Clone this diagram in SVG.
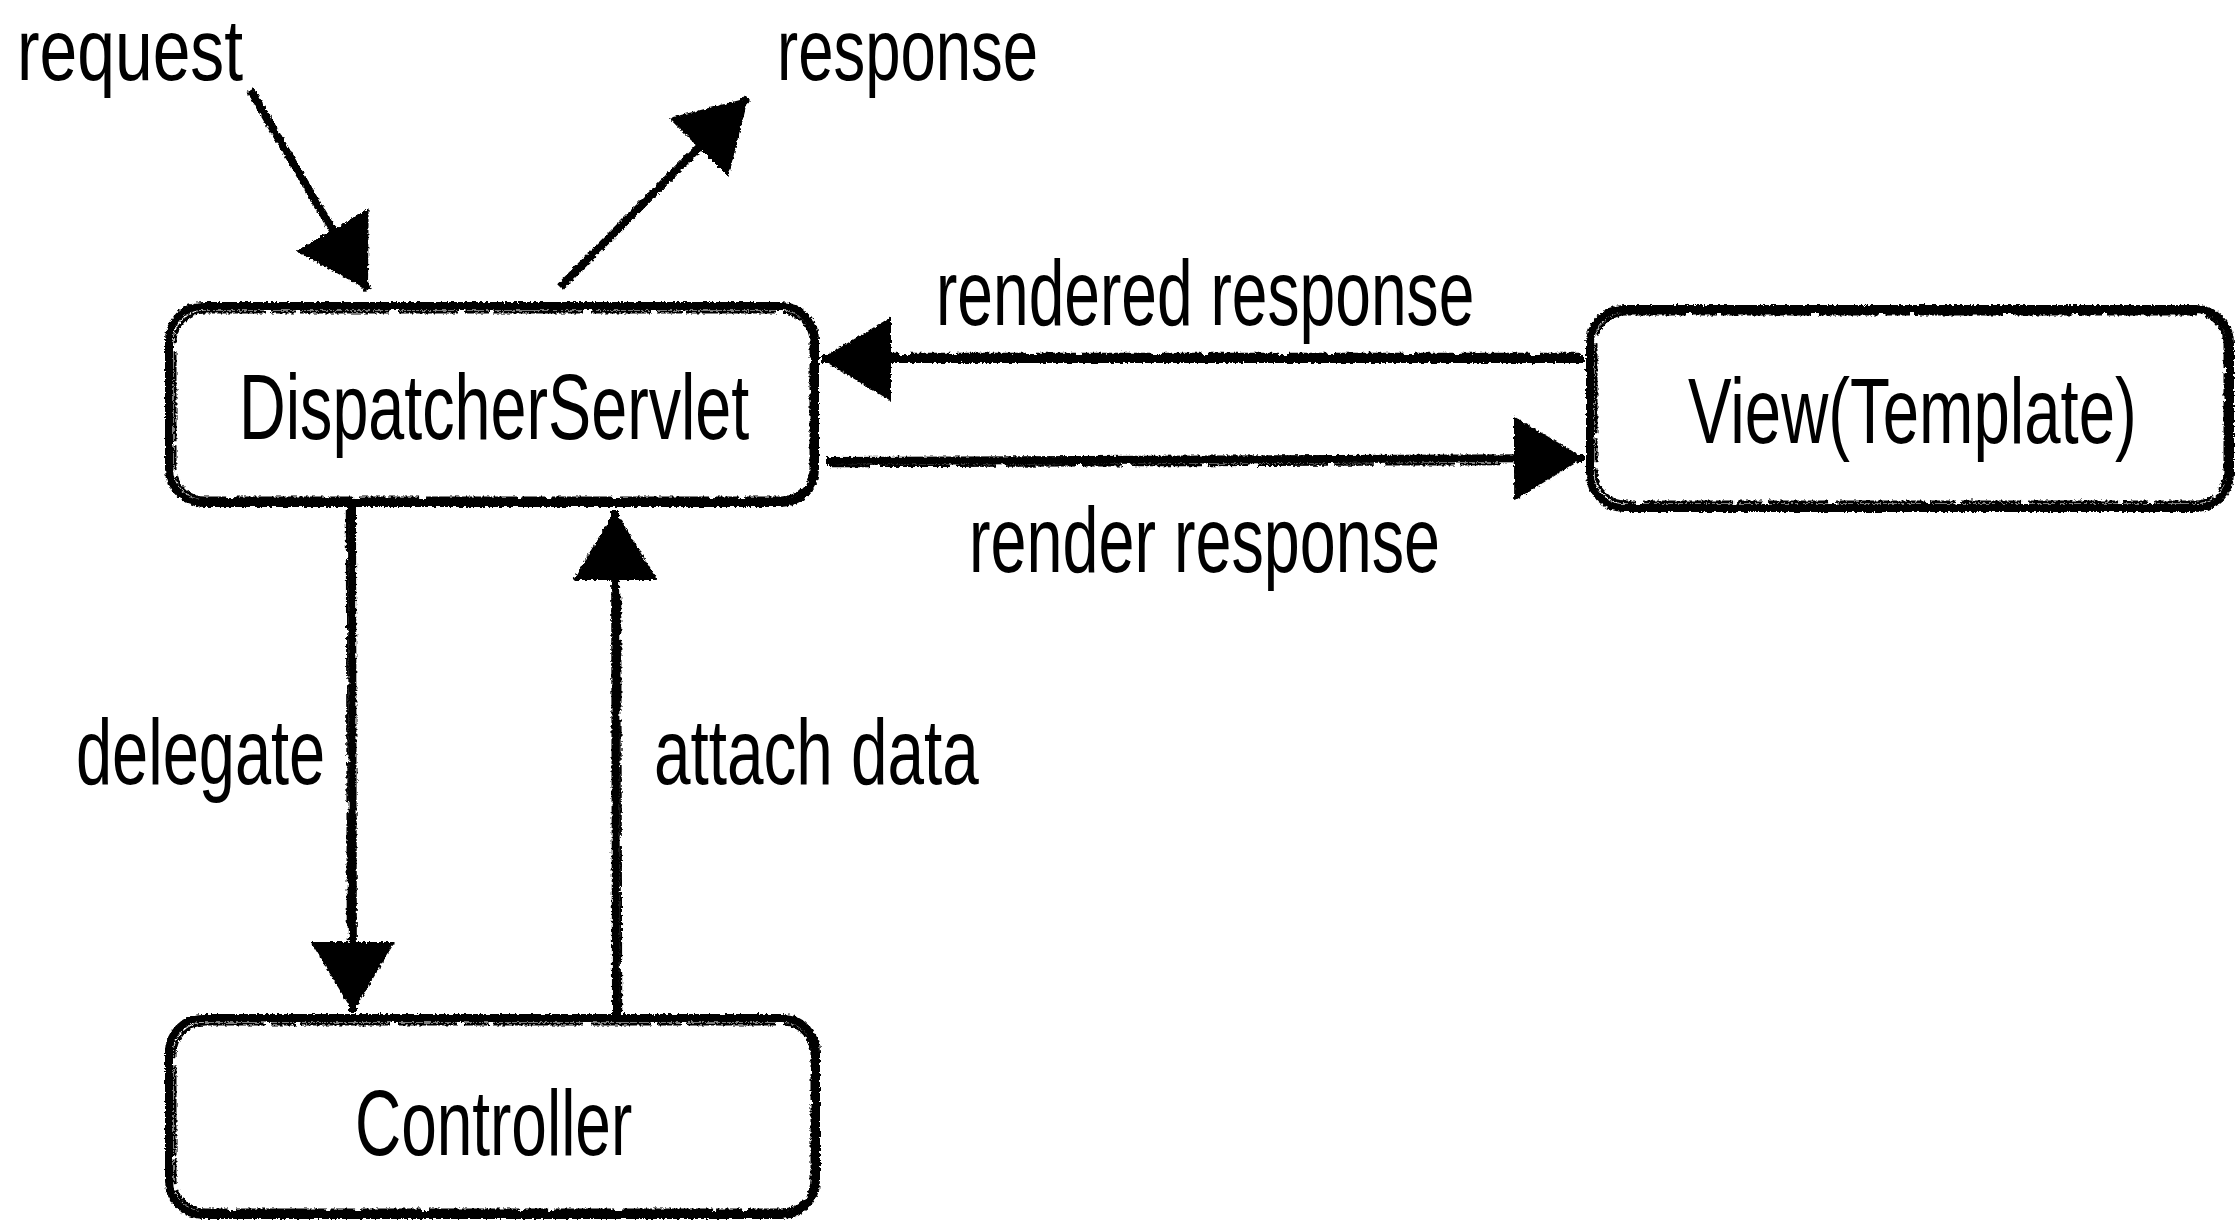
<svg xmlns="http://www.w3.org/2000/svg" width="2236" height="1221" viewBox="0 0 2236 1221">
  <style>
    .lbl { font-family: "Liberation Sans", Arial, sans-serif; font-size: 92px; fill: #000; }
    .top { font-size: 88px; }
    .box { fill: #fff; stroke: #000; stroke-width: 8; }
    .ghost { fill: none; stroke: #000; stroke-width: 3; stroke-dasharray: 60 6 25 4 90 8; }
    .edge { fill: none; stroke: #000; stroke-width: 8; stroke-linecap: butt; }
    .edge2 { fill: none; stroke: #000; stroke-width: 2.5; stroke-dasharray: 40 10 70 6; }
  </style>
  <defs>
    <filter id="rough" filterUnits="userSpaceOnUse" x="0" y="0" width="2236" height="1221">
      <feTurbulence type="fractalNoise" baseFrequency="0.35" numOctaves="2" seed="3" result="n"/>
      <feDisplacementMap in="SourceGraphic" in2="n" scale="4.5" xChannelSelector="R" yChannelSelector="G"/>
    </filter>
    <marker id="head" markerUnits="userSpaceOnUse" markerWidth="72" markerHeight="84" refX="70" refY="42" orient="auto" viewBox="0 0 72 84">
      <path d="M0,0 L70,42 L0,84 Z" fill="#000"/>
    </marker>
  </defs>
  <rect width="2236" height="1221" fill="#fff"/>

  <g id="connectors" filter="url(#rough)">
    <g id="e-request">
      <line class="edge" x1="250" y1="90" x2="368" y2="290" marker-end="url(#head)"/>
      <line class="edge2" x1="255" y1="92" x2="332" y2="225"/>
    </g>
    <g id="e-response">
      <line class="edge" x1="560" y1="287" x2="748" y2="98" marker-end="url(#head)"/>
      <line class="edge2" x1="567" y1="284" x2="690" y2="160"/>
    </g>
    <g id="e-rendered">
      <line class="edge" x1="1584" y1="359" x2="821" y2="359" marker-end="url(#head)"/>
      <line class="edge2" x1="1580" y1="354" x2="890" y2="354"/>
    </g>
    <g id="e-render">
      <line class="edge" x1="826" y1="461" x2="1584" y2="458" marker-end="url(#head)"/>
      <line class="edge2" x1="830" y1="466" x2="1505" y2="464"/>
    </g>
    <g id="e-delegate">
      <line class="edge" x1="352" y1="506" x2="353" y2="1012" marker-end="url(#head)"/>
      <line class="edge2" x1="347" y1="510" x2="348" y2="940"/>
    </g>
    <g id="e-attach">
      <line class="edge" x1="616" y1="1015" x2="615" y2="510" marker-end="url(#head)"/>
      <line class="edge2" x1="621" y1="1012" x2="620" y2="585"/>
    </g>
  </g>

  <g id="n-dispatcher">
    <g filter="url(#rough)">
      <rect class="box" x="169" y="306" width="646" height="197" rx="34"/>
      <rect class="ghost" x="175" y="312" width="636" height="186" rx="30"/>
    </g>
    <text class="lbl" transform="translate(239,439) scale(0.7,1)" textLength="729" lengthAdjust="spacingAndGlyphs">DispatcherServlet</text>
  </g>

  <g id="n-view">
    <g filter="url(#rough)">
      <rect class="box" x="1590" y="309" width="640" height="199" rx="34"/>
      <rect class="ghost" x="1596" y="314" width="629" height="188" rx="30"/>
    </g>
    <text class="lbl" transform="translate(1688,443) scale(0.7,1)" textLength="641" lengthAdjust="spacingAndGlyphs">View(Template)</text>
  </g>

  <g id="n-controller">
    <g filter="url(#rough)">
      <rect class="box" x="169" y="1018" width="647" height="197" rx="34"/>
      <rect class="ghost" x="175" y="1024" width="637" height="186" rx="30"/>
    </g>
    <text class="lbl" transform="translate(355,1155) scale(0.7,1)" textLength="396" lengthAdjust="spacingAndGlyphs">Controller</text>
  </g>

  <g id="labels">
    <text class="lbl top" transform="translate(17,80) scale(0.7,1)" textLength="323" lengthAdjust="spacingAndGlyphs">request</text>
    <text class="lbl top" transform="translate(777,80) scale(0.7,1)" textLength="373" lengthAdjust="spacingAndGlyphs">response</text>
    <text class="lbl" transform="translate(936,325) scale(0.7,1)" textLength="769" lengthAdjust="spacingAndGlyphs">rendered response</text>
    <text class="lbl" transform="translate(969,572) scale(0.7,1)" textLength="673" lengthAdjust="spacingAndGlyphs">render response</text>
    <text class="lbl" transform="translate(76,784) scale(0.7,1)" textLength="356" lengthAdjust="spacingAndGlyphs">delegate</text>
    <text class="lbl" transform="translate(654,784) scale(0.7,1)" textLength="464" lengthAdjust="spacingAndGlyphs">attach data</text>
  </g>
</svg>
